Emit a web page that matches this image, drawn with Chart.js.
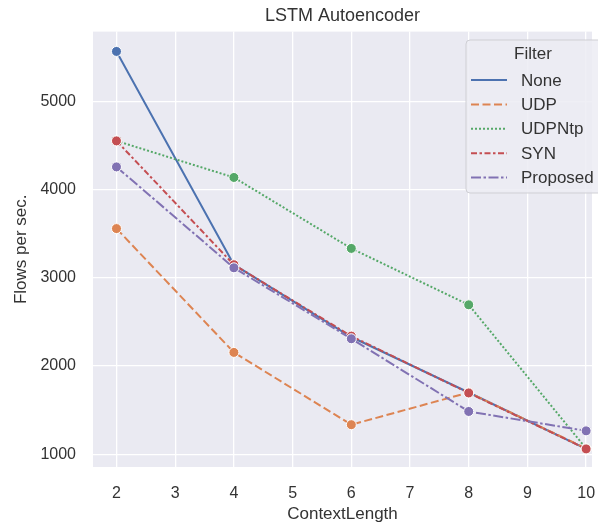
<!DOCTYPE html>
<html>
<head>
<meta charset="utf-8">
<script src="https://cdn.jsdelivr.net/npm/chart.js@4/dist/chart.umd.min.js"></script>
<style>
  html, body { margin: 0; padding: 0; background: #fff; }
  #wrap { width: 598px; height: 526px; }
</style>
</head>
<body>
<div id="wrap"><canvas id="lstmChart" width="598" height="526"></canvas></div>
<script>
// LSTM Autoencoder - flows per sec. by context length
const contextLengths = [2, 4, 6, 8, 10];
const filterNames = ["None", "UDP", "UDPNtp", "SYN", "Proposed"];
const noneValues = [5570, 3150, 2330, 1700, 1060];
const udpValues = [3560, 2155, 1335, 1700, 1065];
const udpNtpValues = [4555, 4140, 3335, 2695, 1065];
const synValues = [4555, 3150, 2340, 1695, 1060];
const proposedValues = [4260, 3115, 2310, 1485, 1265];
const xTicks = [2, 3, 4, 5, 6, 7, 8, 9, 10];
const yTicks = [1000, 2000, 3000, 4000, 5000];

const allValues = [noneValues, udpValues, udpNtpValues, synValues, proposedValues];
const colors = ['#4c72b0', '#dd8452', '#55a868', '#c44e52', '#8172b3'];
const dashes = [[], [8, 3.5], [2, 2], [6, 2.5, 2.5, 2.5], [10, 2.5, 2.5, 2.5]];
const FONT = "'Liberation Sans', Arial, sans-serif";
const TEXT = '#333333';

const datasets = filterNames.map((name, i) => ({
    label: name,
    data: contextLengths.map((x, j) => ({x: x, y: allValues[i][j]})),
    borderColor: colors[i],
    backgroundColor: colors[i],
    borderWidth: 2,
    borderDash: dashes[i],
    pointRadius: 5,
    pointBorderColor: '#ffffff',
    pointBorderWidth: 1,
    pointBackgroundColor: colors[i],
    order: filterNames.length - i,
    tension: 0
}));

// grey panel behind the plot
const panelBg = {
    id: 'panelBg',
    beforeDraw(chart) {
        const a = chart.chartArea;
        const ctx = chart.ctx;
        ctx.save();
        ctx.fillStyle = '#eaeaf2';
        ctx.fillRect(a.left, a.top, a.right - a.left, a.bottom - a.top);
        ctx.restore();
    }
};

// seaborn-like legend in the top right corner (cut by the right edge)
const filterLegend = {
    id: 'filterLegend',
    afterDatasetsDraw(chart) {
        const ctx = chart.ctx;
        const x0 = 466, y0 = 40, w = 142, h = 153;
        ctx.save();
        ctx.beginPath();
        ctx.roundRect(x0, y0, w, h, 4);
        ctx.fillStyle = 'rgba(236,236,243,0.85)';
        ctx.fill();
        ctx.strokeStyle = '#cfcfd4';
        ctx.lineWidth = 1;
        ctx.stroke();

        ctx.fillStyle = TEXT;
        ctx.font = '17px ' + FONT;
        ctx.textAlign = 'center';
        ctx.textBaseline = 'middle';
        ctx.fillText('Filter', 533, 54);

        ctx.font = '17px ' + FONT;
        ctx.textAlign = 'left';
        chart.data.datasets.forEach((ds, i) => {
            const y = 80 + i * 24.4;
            ctx.beginPath();
            ctx.setLineDash(ds.borderDash);
            ctx.strokeStyle = ds.borderColor;
            ctx.lineWidth = 2;
            ctx.moveTo(471, y);
            ctx.lineTo(507, y);
            ctx.stroke();
            ctx.setLineDash([]);
            ctx.fillStyle = TEXT;
            ctx.fillText(ds.label, 521, y + 1);
        });
        ctx.restore();
    }
};

new Chart(document.getElementById('lstmChart').getContext('2d'), {
    type: 'line',
    data: { datasets: datasets },
    plugins: [panelBg, filterLegend],
    options: {
        responsive: false,
        animation: false,
        layout: { padding: { left: 0, right: 0, top: 0, bottom: 0 } },
        scales: {
            x: {
                type: 'linear',
                min: 1.6,
                max: 10.1,
                afterBuildTicks: (scale) => { scale.ticks = xTicks.map(v => ({value: v})); },
                afterFit: (scale) => {
                    scale.height = 59;
                    scale.paddingLeft = 0;
                    scale.paddingRight = 0;
                },
                border: { display: false },
                grid: { color: '#ffffff', lineWidth: 1.3, drawTicks: false },
                ticks: {
                    color: TEXT,
                    padding: 17,
                    font: { family: FONT, size: 16 },
                    maxRotation: 0
                },
                title: {
                    display: true,
                    text: 'ContextLength',
                    color: TEXT,
                    font: { family: FONT, size: 17 },
                    padding: { top: 0, bottom: 1 }
                }
            },
            y: {
                min: 855,
                max: 5795,
                afterBuildTicks: (scale) => { scale.ticks = yTicks.map(v => ({value: v})); },
                afterFit: (scale) => { scale.width = 93; },
                border: { display: false },
                grid: { color: '#ffffff', lineWidth: 1.3, drawTicks: false },
                ticks: {
                    color: TEXT,
                    padding: 17,
                    font: { family: FONT, size: 16 },
                    callback: (v) => String(v)
                },
                title: {
                    display: true,
                    text: 'Flows per sec.',
                    color: TEXT,
                    font: { family: FONT, size: 17 },
                    padding: { top: 11, bottom: 0 }
                }
            }
        },
        plugins: {
            legend: { display: false },
            tooltip: { enabled: false },
            title: {
                display: true,
                text: 'LSTM Autoencoder',
                fullSize: false,
                color: TEXT,
                font: { family: FONT, size: 18, weight: 'normal' },
                padding: { top: 5, bottom: 5 }
            }
        }
    }
});
</script>
</body>
</html>
